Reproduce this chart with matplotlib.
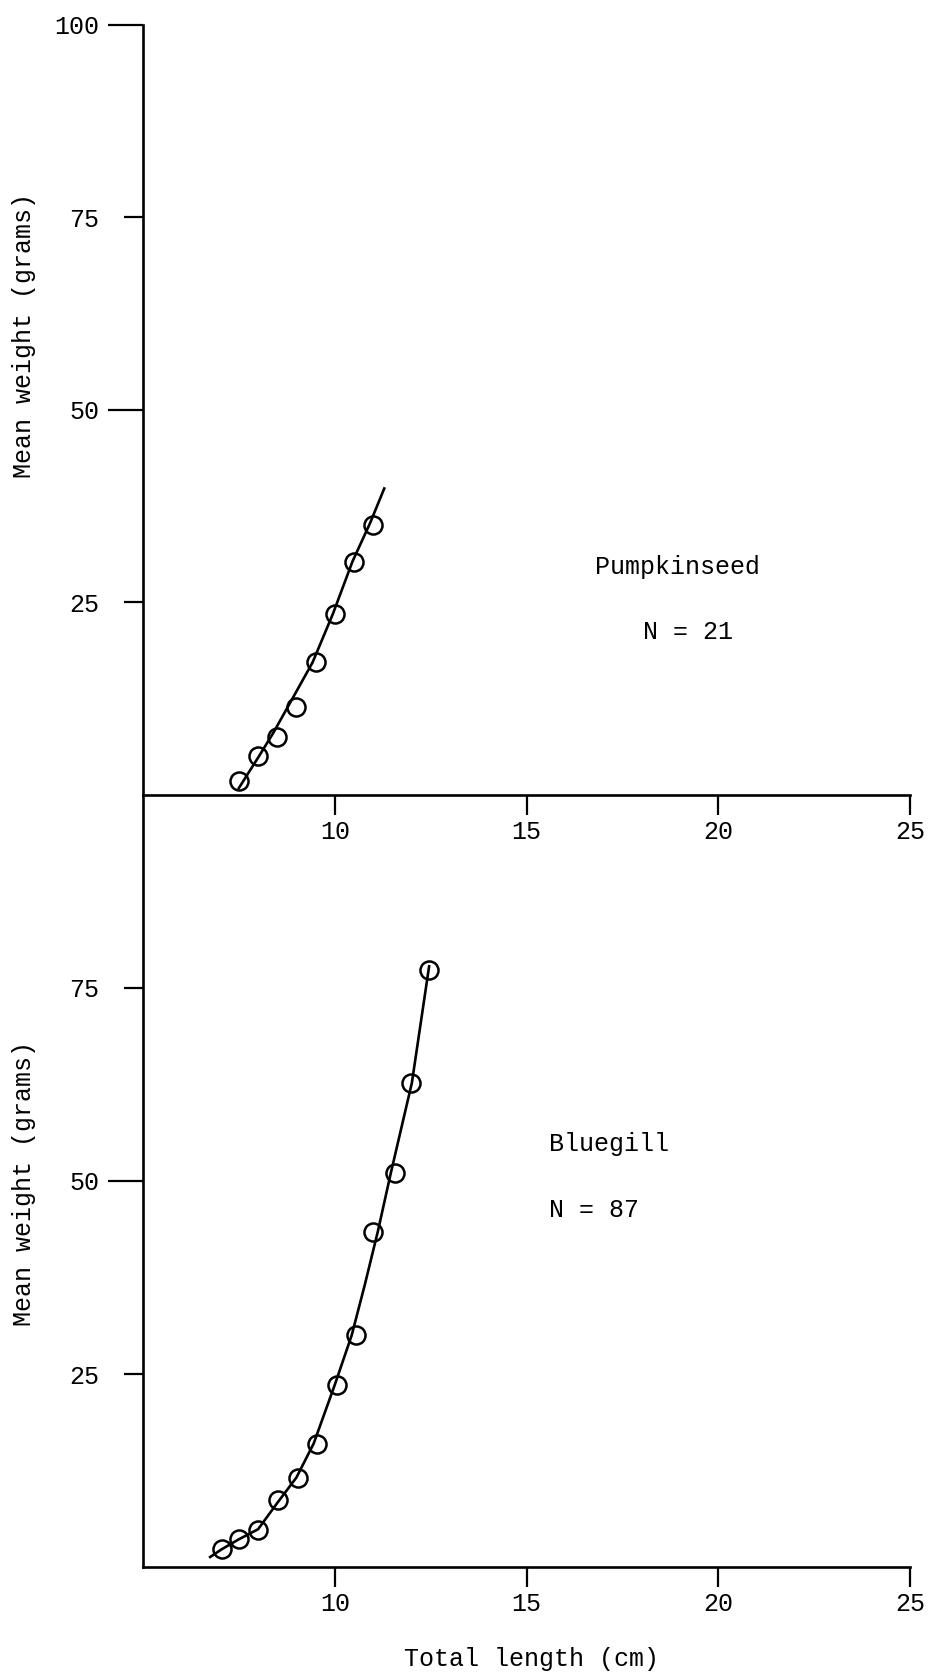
import matplotlib.pyplot as plt
from matplotlib.ticker import FixedLocator, FixedFormatter

# Pumpkinseed: mean weight at each length class
pump_len = [7.5, 8.0, 8.5, 9.0, 9.5, 10.0, 10.5, 11.0]
pump_wt = [1.8, 5.1, 7.5, 11.4, 17.2, 23.5, 30.3, 35.1]
# fitted length-weight curve
pump_fit_len = [7.5, 8.02, 8.39, 8.76, 9.42, 9.95, 10.46, 10.92, 11.29]
pump_fit_wt = [0.9, 5.0, 8.0, 11.3, 17.2, 23.5, 30.3, 35.3, 39.8]

# Bluegill
blue_len = [7.05, 7.5, 8.0, 8.53, 9.05, 9.53, 10.05, 10.55, 11.0, 11.57, 12.0, 12.46]
blue_wt = [2.3, 3.6, 4.8, 8.7, 11.5, 16.0, 23.6, 30.0, 43.4, 51.0, 62.7, 77.3]
blue_fit_len = [6.75, 7.05, 7.5, 8.0, 8.5, 9.0, 9.45, 10.0, 10.44, 10.78, 11.12,
                11.46, 12.01, 12.46]
blue_fit_wt = [1.3, 2.3, 3.6, 4.9, 8.3, 11.6, 16.0, 23.6, 30.0, 36.5, 43.4,
               51.0, 62.7, 77.8]

x_ticks = [10, 15, 20, 25]

plt.rcParams['font.family'] = ['Liberation Mono', 'DejaVu Sans Mono']
FS = 18
W, H = 930, 1676

fig = plt.figure(figsize=(9.3, 16.76), dpi=100)
ax_bot = fig.add_axes([0.1538, 0.0650, 0.8247, 0.4607])
ax_top = fig.add_axes([0.1538, 0.5257, 0.8247, 0.4594])
# keep the upper panel's axis line and labels above the lower panel
ax_top.set_zorder(2)
ax_top.patch.set_visible(False)
ax_bot.patch.set_visible(False)


def style(ax, major_y, minor_y):
    ax.set_xlim(5, 25)
    ax.set_ylim(0, 100)
    for s in ['top', 'right']:
        ax.spines[s].set_visible(False)
    for s in ['left', 'bottom']:
        ax.spines[s].set_linewidth(1.9)
    ax.xaxis.set_major_locator(FixedLocator(x_ticks))
    ax.xaxis.set_major_formatter(FixedFormatter([str(t) for t in x_ticks]))
    ax.tick_params(axis='x', direction='out', length=14.4, width=1.6,
                   pad=3.6, labelsize=FS)
    ax.yaxis.set_major_locator(FixedLocator(major_y))
    ax.yaxis.set_major_formatter(FixedFormatter([str(t) for t in major_y]))
    ax.yaxis.set_minor_locator(FixedLocator(minor_y))
    ax.yaxis.set_minor_formatter(FixedFormatter([str(t) for t in minor_y]))
    ax.tick_params(axis='y', which='major', direction='out', length=25,
                   width=1.6, pad=6.5, labelsize=FS)
    ax.tick_params(axis='y', which='minor', direction='out', length=13.7,
                   width=1.6, pad=18, labelsize=FS)


style(ax_top, [50, 100], [25, 75])
style(ax_bot, [50], [25, 75])

ax_top.plot(pump_fit_len, pump_fit_wt, color='black', lw=1.9)
ax_top.plot(pump_len, pump_wt, 'o', mfc='none', mec='black', ms=13, mew=1.8)
ax_top.text(16.79, 29.6, 'Pumpkinseed', fontsize=FS, va='center')
ax_top.text(18.04, 21.2, 'N = 21', fontsize=FS, va='center')

ax_bot.plot(blue_fit_len, blue_fit_wt, color='black', lw=1.9)
ax_bot.plot(blue_len, blue_wt, 'o', mfc='none', mec='black', ms=13, mew=1.8)
ax_bot.text(15.59, 54.8, 'Bluegill', fontsize=FS, va='center')
ax_bot.text(15.59, 46.2, 'N = 87', fontsize=FS, va='center')

# axis titles
fig.text(24 / W, 1 - 336 / H, 'Mean weight (grams)', fontsize=FS,
         rotation=90, ha='center', va='center')
fig.text(24 / W, 1 - 1183 / H, 'Mean weight (grams)', fontsize=FS,
         rotation=90, ha='center', va='center')
fig.text(532 / W, 1 - 1659 / H, 'Total length (cm)', fontsize=FS,
         ha='center', va='center')

fig.savefig('out.png', dpi=100)
